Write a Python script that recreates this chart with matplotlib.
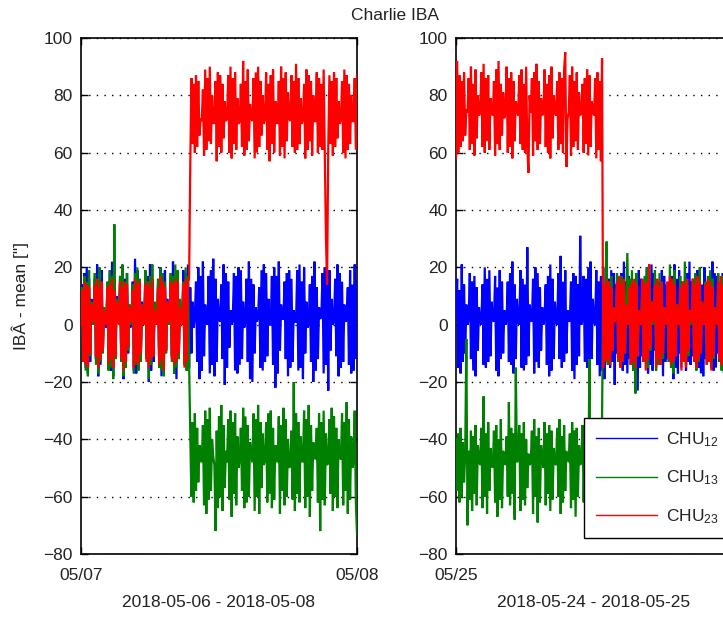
import numpy as np
import matplotlib
matplotlib.use("Agg")
import matplotlib.pyplot as plt

plt.rcParams['font.family'] = ['Liberation Sans', 'DejaVu Sans']
plt.rcParams['mathtext.default'] = 'regular'

# sampling: one value every 0.1 h, 0 .. 24 h from midnight of the tick day
step_h = 0.1

# left panel: 2018-05-06 - 2018-05-08 (tick 05/07)
blue_1 = [3, 14, -11, 18, -15, 20, -17, 16, -13, 9, 1,
          2, 16, -12, 21, -18, 17, -14, 19, -9, 6, 0,
          -1, 13, -14, 19, -16, 22, -18, 15, -12, 10, 2,
          1, 17, -13, 20, -19, 16, -15, 18, -10, 7, -1,
          3, 15, -16, 23, -17, 19, -14, 14, -11, 8, 0,
          2, 18, -12, 17, -20, 21, -16, 16, -13, 5, 1,
          0, 14, -15, 20, -18, 18, -13, 19, -9, 9, 2,
          1, 16, -11, 22, -17, 15, -19, 17, -12, 6, 0,
          2, 19, -14, 18, -16, 21, -15, 13, -10, 8, -1,
          3, 15, -13, 20, -19, 17, -16, 22, -11, 7, 1,
          0, 17, -17, 19, -14, 23, -18, 16, -13, 9, 2,
          1, 14, -12, 21, -21, 18, -15, 15, -8, 5, 0,
          2, 18, -16, 17, -17, 20, -14, 19, -12, 8, -1,
          1, 16, -13, 22, -19, 16, -20, 14, -10, 6, 1,
          3, 13, -15, 19, -16, 21, -13, 18, -11, 9, 0,
          0, 17, -14, 20, -22, 17, -17, 22, -9, 7, 2,
          2, 15, -12, 18, -18, 19, -15, 16, -13, 5, 1,
          1, 19, -16, 21, -15, 15, -19, 20, -10, 8, -1,
          0, 14, -13, 17, -20, 22, -16, 13, -12, 6, 2,
          3, 18, -17, 20, -14, 16, -23, 19, -9, 9, 0,
          1, 16, -11, 21, -18, 18, -15, 15, -13, 7, 1,
          2, 13, -14, 19, -17, 14, -16, 21, -12, 15]
green_1 = [2, 13, -12, 17, -16, 15, -18, 19, -11, 8, 0,
           1, 18, -14, 16, -17, 20, -13, 14, -10, 6, 2,
           0, 15, -16, 19, -15, 17, -19, 35, -12, 9, 1,
           3, 17, -13, 21, -18, 14, -15, 18, -9, 7, 0,
           1, 14, -17, 18, -14, 20, -16, 16, -13, 5, 2,
           0, 19, -12, 15, -19, 17, -14, 21, -11, 8, 1,
           2, 16, -15, 20, -16, 18, -18, 15, -10, 6, 0,
           1, 18, -13, 17, -17, 21, -15, 19, -12, 9, 2,
           0, 15, -14, 20, -16, 17, -13,
           -38, -60, -34, -62, -31, -58, -36, -55, -42, -47, -48,
           -35, -63, -30, -66, -33, -61, -29, -58, -40, -46, -49,
           -72, -37, -64, -32, -60, -28, -65, -35, -57, -44, -48,
           -33, -61, -30, -67, -34, -59, -31, -63, -39, -50, -47,
           -36, -58, -29, -64, -32, -62, -35, -60, -41, -45, -48,
           -31, -65, -33, -60, -28, -66, -34, -57, -38, -49, -47,
           -34, -62, -31, -59, -30, -64, -36, -61, -42, -46, -48,
           -32, -66, -35, -58, -29, -63, -33, -60, -40, -50, -49,
           -37, -61, -20, -65, -31, -59, -34, -62, -39, -47, -48,
           -30, -64, -33, -60, -28, -67, -35, -58, -41, -45, -47,
           -36, -62, -31, -72, -34, -61, -30, -63, -38, -49, -48,
           -33, -59, -29, -65, -32, -60, -36, -64, -40, -46, -47,
           -31, -63, -34, -58, -27, -66, -33, -61, -39, -50, -48,
           -30, -62, -73]
red_1 = [0, 12, -13, 15, -14, 14, -15, 13, -10, 7, 1,
         2, 14, -11, 16, -15, 13, -12, 15, -9, 5, 0,
         1, 13, -14, 14, -12, 16, -15, 12, -11, 8, 2,
         0, 15, -12, 13, -16, 15, -13, 14, -8, 6, 1,
         2, 12, -15, 16, -13, 14, -14, 15, -10, 7, 0,
         1, 14, -13, 15, -15, 13, -12, 16, -11, 5, 2,
         0, 13, -14, 17, -12, 15, -16, 13, -9, 8, 1,
         2, 15, -12, 14, -14, 16, -13, 15, -10, 6, 0,
         1, 14, -15, 16, -13, 15, 16,
         55, 86, 63, 84, 60, 87, 62, 85, 66, 72, 71,
         82, 59, 89, 61, 86, 64, 90, 63, 80, 70, 71,
         85, 57, 88, 62, 87, 60, 84, 65, 78, 71, 72,
         87, 60, 90, 58, 86, 63, 88, 61, 79, 70, 71,
         84, 62, 92, 59, 85, 61, 89, 64, 77, 72, 71,
         86, 58, 88, 60, 90, 62, 85, 66, 80, 70, 72,
         88, 61, 84, 57, 87, 63, 89, 60, 78, 71, 70,
         85, 59, 90, 62, 86, 58, 88, 64, 81, 72, 71,
         87, 62, 85, 60, 91, 61, 86, 63, 79, 70, 72,
         84, 58, 89, 61, 87, 64, 85, 59, 80, 71, 71,
         88, 60, 86, 62, 84, 61, 89, 60, 30, 14, 62,
         87, 63, 85, 59, 88, 62, 86, 65, 78, 70, 72,
         85, 60, 89, 58, 87, 61, 84, 63, 80, 71, 71,
         86, 61, 87]

# right panel: 2018-05-24 - 2018-05-25 (tick 05/25)
blue_2 = [3, 16, -15, 12, -17, 21, -13, 14, -10, 7, 0,
          2, 18, -12, 15, -16, 17, -18, 13, -9, 6, 1,
          0, 14, -14, 20, -15, 16, -13, 19, -11, 8, 2,
          1, 17, -16, 13, -18, 19, -12, 15, -10, 5, 0,
          2, 15, -13, 18, -14, 22, -17, 14, -12, 9, 1,
          0, 19, -15, 16, -16, 14, -14, 27, -11, 7, 2,
          1, 16, -17, 20, -13, 18, -15, 13, -9, 6, 0,
          3, 14, -14, 17, -18, 21, -16, 16, -12, 8, 1,
          0, 18, -12, 24, -15, 15, -13, 19, -10, 5, 2,
          1, 15, -16, 18, -19, 17, -14, 14, -11, 31, 0,
          2, 17, -13, 16, -15, 20, -17, 22, -12, 9, 1,
          0, 19, -14, 15, -18, 17, -16, 20, -19, 8, 2,
          1, 16, -15, 19, -13, 18, -21, 14, -10, 6, 0,
          2, 18, -16, 22, -14, 15, -17, 17, -12, 9, 1,
          0, 14, -13, 17, -23, 19, -15, 16, -11, 5, 2,
          1, 20, -17, 16, -14, 21, -16, 18, -9, 7, 0,
          3, 15, -14, 19, -18, 17, -13, 14, -12, 8, 1,
          0, 17, -19, 21, -15, 16, -17, 19, -10, 6, 2,
          1, 14, -16, 18, -13, 22, -14, 15, -11, 9, 0,
          2, 19, -15, 16, -17, 14, -18, 20, -12, 5, 1,
          0, 16, -13, 22, -16, 18, -15, 17, -10, 7, 2,
          1, 18, -17, 15, -14, 19, -16, 20, -11, 18]
green_2 = [-40, -58, -38, -62, -36, -60, -41, -55, -45, -5, -70,
           -44, -61, -37, -65, -39, -59, -35, -63, -42, -47, -49,
           -36, -64, -25, -60, -38, -66, -34, -58, -43, -48, -50,
           -37, -62, -35, -67, -40, -61, -33, -64, -44, -46, -49,
           -39, -60, -27, -63, -36, -59, -38, -68, -15, -48, -47,
           -35, -65, -38, -61, -34, -63, -40, -57, -45, -49, -48,
           -37, -66, -33, -60, -39, -69, -36, -62, -42, -47, -50,
           -34, -63, -38, -59, -35, -65, -37, -61, -43, -48, -49,
           -36, -60, -33, -66, -39, -62, -35, -58, -44, -46, -48,
           -38, -64, -34, -61, -37, -67, -36, -60, -42, -49, -47,
           -35, -62, -39, -65, -33, -59, -12, -63, -41, -48, -50,
           -37, -61, -34, -64, -38, -60, -33,
           14, -12, 16, 29, -14, 15, -11, 17, -9, 6, 1,
           2, 18, -13, 15, -15, 17, -12, 14, -10, 7, 25,
           0, 16, -14, 19, -16, 14, -24, 18, -11, 5, 2,
           1, 15, -12, 17, -13, 20, -15, 16, -9, 8, 0,
           2, 19, -16, 14, -14, 18, -13, 15, -12, 6, 1,
           0, 14, -13, 21, -15, 16, -17, 19, -10, 7, 2,
           1, 17, -15, 15, -12, 22, -14, 14, -11, 5, 0,
           2, 16, -12, 18, -16, 15, -13, 20, -9, 8, 1,
           0, 15, -14, 17, -13, 19, -15, 16, -12, 6, 2,
           1, 18, -13, 14, -16, 17, -12, 21, -10, 7, 0,
           2, 16, -14]
red_2 = [58, 92, 60, 87, 62, 85, 64, 88, 66, 75, 74,
         86, 61, 90, 63, 84, 59, 89, 65, 80, 73, 74,
         88, 62, 91, 60, 86, 64, 87, 61, 79, 74, 73,
         85, 59, 89, 63, 92, 61, 84, 66, 81, 72, 74,
         90, 60, 86, 62, 88, 58, 85, 64, 78, 75, 73,
         87, 63, 89, 61, 84, 60, 90, 62, 53, 80, 74,
         86, 59, 88, 64, 91, 61, 85, 63, 79, 73, 74,
         89, 62, 84, 60, 87, 58, 90, 65, 80, 74, 73,
         85, 61, 88, 63, 86, 60, 89, 95, 55, 72, 74,
         87, 59, 90, 62, 85, 64, 88, 61, 81, 73, 74,
         84, 60, 86, 63, 89, 59, 87, 62, 78, 75, 73,
         86, 58, 88, 61, 85, 57, 93,
         -15, 14, -13, 16, -12, 15, -14, 13, -9, 6, 1,
         2, 15, -12, 17, -15, 14, -13, 16, -10, 7, 0,
         1, 13, -14, 15, -13, 16, -15, 14, -11, 5, 2,
         0, 16, -13, 14, -16, 15, -12, 21, -8, 8, 1,
         2, 14, -15, 16, -12, 13, -14, 15, -10, 6, 0,
         1, 15, -12, 17, -14, 16, -13, 14, -11, 7, 2,
         0, 13, -16, 15, -13, 14, -15, 16, -9, 5, 1,
         2, 16, -13, 14, -15, 17, -12, 15, -10, 8, 0,
         1, 14, -14, 16, -13, 15, -16, 13, -11, 6, 2,
         0, 15, -12, 17, -14, 14, -13, 16, -9, 7, 1,
         2, 14, -13]

labels = ['CHU$_{12}$', 'CHU$_{13}$', 'CHU$_{23}$']
colors = ['#0000ff', '#008000', '#ff0000']
tick_labels_1 = ['05/07', '05/08']
tick_labels_2 = ['05/25']
xlabel_1 = '2018-05-06 - 2018-05-08'
xlabel_2 = '2018-05-24 - 2018-05-25'

fs = 12.5
fig = plt.figure(figsize=(7.23, 6.19), dpi=100)
ax1 = fig.add_axes([81 / 723, 65 / 619, 276 / 723, 516 / 619])
ax2 = fig.add_axes([456 / 723, 65 / 619, 276 / 723, 516 / 619])

panels = [(ax1, [blue_1, green_1, red_1], [0, 24], tick_labels_1, xlabel_1),
          (ax2, [blue_2, green_2, red_2], [0], tick_labels_2, xlabel_2)]

for ax, series, ticks, tlabels, xlab in panels:
    for vals, col, lab in zip(series, colors, labels):
        t = np.arange(len(vals)) * step_h
        ax.plot(t, vals, color=col, lw=1.6, solid_joinstyle='miter',
                label=lab, zorder=3)
    ax.set_xlim(0, 24)
    ax.set_ylim(-80, 100)
    ax.set_yticks(np.arange(-80, 101, 20))
    ax.set_xticks(ticks)
    ax.set_xticklabels(tlabels)
    ax.yaxis.grid(True, linestyle=(0, (1, 4.5)), color='black', lw=1.0, zorder=0)
    ax.set_axisbelow(True)
    ax.tick_params(direction='in', length=5, width=1, labelsize=fs,
                   right=True, top=True, colors='black', labelcolor='#222222')
    ax.tick_params(axis='x', pad=10)
    ax.tick_params(axis='y', pad=6)
    ax.set_xlabel(xlab, fontsize=fs, color='#222222', labelpad=9)
    for sp in ax.spines.values():
        sp.set_linewidth(1.2)

ax1.set_ylabel('IBÂ - mean ["]', fontsize=fs, color='#222222', labelpad=10)

leg = ax2.legend(loc='upper left', bbox_to_anchor=(0.464, 0.264), fontsize=fs,
                 handlelength=3.5, labelspacing=1.15, borderpad=0.7,
                 handletextpad=0.5, fancybox=False, framealpha=1, borderaxespad=0)
leg.get_frame().set_edgecolor('black')
leg.get_frame().set_linewidth(1.0)
for line in leg.get_lines():
    line.set_linewidth(1.0)
for txt in leg.get_texts():
    txt.set_color('#222222')

fig.text(395 / 723, 1 - 16 / 619, 'Charlie IBA', ha='center', va='center',
         fontsize=fs, color='#222222')

fig.savefig('out.png', dpi=100)
